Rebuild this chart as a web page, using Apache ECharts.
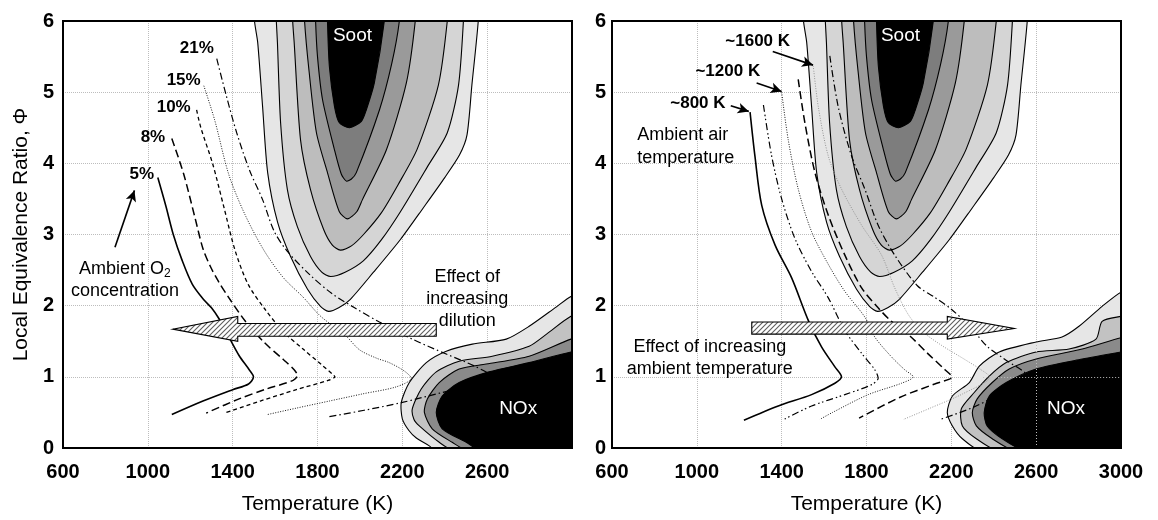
<!DOCTYPE html>
<html>
<head>
<meta charset="utf-8">
<script src="https://cdn.jsdelivr.net/npm/echarts@6/dist/echarts.min.js"></script>
<style>
  html, body { margin: 0; padding: 0; background: #fff; }
  #chart { width: 1158px; height: 520px; }
</style>
</head>
<body>
<div id="chart"></div>
<script>
// ---------- values: temperature (K) vs local equivalence ratio ----------
const tempRange = [600, 3000];
const tempStep = 400;
const phiRange = [0, 6];
const phiStep = 1;

// soot yield contours (outermost band first, black core last)
const soot1 = [[1500,6.4],[1503,6],[1518,5.7],[1541,4.8],[1565,3.87],[1612,3.17],[1673,2.69],[1753,2.23],[1814,1.99],[1852,1.92],[1900,1.97],[1955,2.09],[2064,2.47],[2191,2.93],[2300,3.38],[2400,3.8],[2470,4.12],[2505,4.4],[2528,5.1],[2558,6],[2560,6.4]];
const soot2 = [[1603,6.4],[1606,6],[1611,5.7],[1626,4.57],[1658,3.63],[1705,3.11],[1767,2.69],[1820,2.47],[1862,2.41],[1930,2.47],[2016,2.63],[2100,2.92],[2191,3.32],[2318,3.95],[2412,4.43],[2465,5.1],[2488,6],[2490,6.4]];
const soot3 = [[1681,6.4],[1683,6],[1690,5.7],[1720,4.33],[1767,3.63],[1829,3.07],[1870,2.85],[1908,2.78],[1960,2.84],[2017,3.0],[2100,3.3],[2180,3.7],[2270,4.2],[2370,5.1],[2412,6],[2416,6.4]];
const soot4 = [[1737,6.4],[1739,6],[1760,5.3],[1795,4.43],[1847,3.87],[1903,3.32],[1941,3.22],[1985,3.32],[2012,3.49],[2125,4.19],[2219,5.13],[2261,6],[2265,6.4]];
const soot5 = [[1789,6.4],[1791,6],[1800,5.5],[1824,4.89],[1880,4.19],[1912,3.85],[1936,3.75],[1960,3.78],[1983,3.87],[2092,4.75],[2150,5.4],[2186,6],[2190,6.4]];
const sootCore = [[1845,6.4],[1847,6],[1856,5.36],[1880,4.8],[1903,4.57],[1951,4.5],[2007,4.59],[2030,4.75],[2068,5.13],[2115,6],[2118,6.4]];

// NOx contours, dilution panel
const noxA1 = [[3100,2.25],[2995,2.13],[2925,1.98],[2798,1.71],[2690,1.53],[2530,1.46],[2407,1.36],[2313,1.2],[2233,0.92],[2195,0.64],[2200,0.41],[2230,0.25],[2266,0.14],[2327,0.03],[2360,-0.05],[3100,-0.3]];
const noxA2 = [[3100,1.95],[2995,1.85],[2880,1.6],[2798,1.43],[2624,1.29],[2468,1.22],[2360,1.07],[2289,0.83],[2247,0.55],[2255,0.4],[2280,0.31],[2374,0.08],[2450,-0.05],[3100,-0.3]];
const noxA3 = [[3100,1.6],[2995,1.53],[2798,1.29],[2595,1.18],[2468,1.11],[2374,0.92],[2318,0.69],[2304,0.5],[2341,0.27],[2435,0.08],[2515,-0.05],[3100,-0.3]];
const noxA4 = [[3100,1.4],[2995,1.35],[2798,1.2],[2609,1.07],[2468,0.92],[2388,0.73],[2360,0.5],[2388,0.27],[2501,0.08],[2576,-0.05],[3100,-0.3]];

// NOx contours, ambient temperature panel
const noxB1 = [[3100,2.3],[3000,2.19],[2911,1.99],[2802,1.71],[2722,1.56],[2600,1.49],[2426,1.35],[2332,1.15],[2285,0.92],[2205,0.73],[2181,0.5],[2205,0.31],[2252,0.13],[2346,-0.05],[3100,-0.3]];
const noxB2 = [[3100,1.9],[3000,1.85],[2911,1.78],[2882,1.53],[2755,1.39],[2600,1.35],[2459,1.2],[2379,1.01],[2308,0.78],[2247,0.55],[2252,0.31],[2318,0.13],[2426,-0.05],[3100,-0.3]];
const noxB3 = [[3100,1.6],[3000,1.55],[2817,1.39],[2600,1.25],[2473,1.11],[2393,0.92],[2322,0.69],[2299,0.5],[2318,0.31],[2393,0.13],[2506,-0.05],[3100,-0.3]];
const noxB4 = [[3100,1.4],[3000,1.35],[2817,1.25],[2600,1.11],[2459,0.92],[2379,0.73],[2355,0.5],[2369,0.31],[2440,0.13],[2553,-0.05],[3100,-0.3]];

// flame paths for ambient O2 concentration
const o2Labels = ['5%', '8%', '10%', '15%', '21%'];
const o2Path5  = [[1047,3.8],[1085,3.4],[1120,3.0],[1160,2.65],[1210,2.3],[1265,2.08],[1300,1.97],[1335,1.82],[1375,1.6],[1430,1.3],[1478,1.1],[1498,1.0],[1475,0.9],[1400,0.82],[1260,0.66],[1113,0.47]];
const o2Path8  = [[1113,4.35],[1169,3.85],[1222,3.24],[1260,2.8],[1295,2.55],[1335,2.33],[1380,2.12],[1460,1.78],[1550,1.48],[1640,1.24],[1690,1.1],[1705,1.02],[1685,0.95],[1560,0.83],[1430,0.69],[1275,0.49]];
const o2Path10 = [[1230,4.75],[1250,4.5],[1306,3.99],[1359,3.38],[1412,2.77],[1473,2.3],[1550,1.96],[1640,1.63],[1732,1.39],[1823,1.16],[1870,1.04],[1882,1.0],[1850,0.95],[1700,0.82],[1530,0.66],[1370,0.5]];
const o2Path15 = [[1264,5.09],[1315,4.61],[1382,3.84],[1458,3.28],[1549,2.77],[1640,2.39],[1732,2.12],[1808,1.87],[1870,1.72],[1936,1.57],[1998,1.38],[2080,1.26],[2138,1.2],[2210,1.08],[2242,0.98],[2172,0.86],[2012,0.76],[1856,0.66],[1700,0.56],[1564,0.47]];
const o2Path21 = [[1325,5.47],[1370,4.95],[1419,4.43],[1480,3.9],[1541,3.49],[1595,3.05],[1656,2.77],[1762,2.44],[1868,2.17],[1975,1.97],[2092,1.77],[2247,1.53],[2407,1.32],[2548,1.14],[2620,1.0],[2540,0.88],[2388,0.78],[2200,0.64],[2020,0.53],[1856,0.44]];

// flame paths for ambient air temperature
const ambLabels = ['~800 K', '~1200 K', '~1600 K'];
const ambPath800  = [[1251,4.72],[1274,4.1],[1306,3.41],[1369,2.85],[1447,2.39],[1526,1.79],[1588,1.42],[1651,1.14],[1682,1.0],[1651,0.91],[1541,0.75],[1384,0.59],[1222,0.39]];
const ambPath1000 = [[1314,4.82],[1353,4.1],[1400,3.5],[1463,2.94],[1541,2.48],[1620,2.11],[1698,1.65],[1777,1.33],[1839,1.1],[1855,0.98],[1824,0.89],[1698,0.75],[1541,0.59],[1410,0.4]];
const ambPath1200 = [[1400,5.0],[1431,4.33],[1478,3.64],[1541,3.04],[1620,2.58],[1698,2.2],[1792,1.84],[1839,1.56],[1918,1.28],[1980,1.1],[2020,1.0],[1965,0.91],[1808,0.75],[1640,0.5],[1579,0.4]];
const ambPath1400 = [[1478,5.18],[1510,4.56],[1557,3.87],[1620,3.27],[1698,2.71],[1777,2.25],[1855,1.97],[1910,1.8],[2006,1.57],[2088,1.33],[2170,1.1],[2203,1.0],[2121,0.9],[1956,0.71],[1765,0.42]];
const ambPath1600 = [[1549,5.37],[1573,4.79],[1620,4.1],[1682,3.64],[1777,3.13],[1871,2.71],[1933,2.25],[1996,1.88],[2059,1.65],[2150,1.45],[2260,1.25],[2340,1.1],[2380,1.0],[2253,0.76],[2100,0.56],[1973,0.4]];
const ambPath1800 = [[1627,5.51],[1667,4.79],[1730,4.1],[1792,3.64],[1855,3.13],[1933,2.71],[2040,2.28],[2120,2.12],[2200,1.95],[2290,1.7],[2368,1.43],[2450,1.25],[2560,1.0],[2420,0.75],[2302,0.57],[2146,0.4]];

// trend arrows (outline of the hatched block arrows)
const dilutionArrow = [[2360,1.75],[1424,1.75],[1424,1.85],[1118,1.67],[1424,1.50],[1424,1.57],[2360,1.57]];
const heatingArrow  = [[1259,1.77],[2181,1.77],[2181,1.85],[2497,1.68],[2181,1.53],[2181,1.60],[1259,1.60]];

// ---------- drawing ----------
const FONT = '"Liberation Sans", Arial, Helvetica, sans-serif';
const sootFills = ['#e6e6e6', '#d5d5d5', '#bdbdbd', '#9a9a9a', '#7d7d7d', '#000'];
const noxFills = ['#e6e6e6', '#c2c2c2', '#8a8a8a', '#000'];

// diagonal hatch used inside the trend arrows
const hatch = document.createElement('canvas');
hatch.width = 5; hatch.height = 5;
(function () {
  const c = hatch.getContext('2d');
  c.fillStyle = '#fff'; c.fillRect(0, 0, 5, 5);
  c.strokeStyle = '#5e5e5e'; c.lineWidth = 1.1;
  c.beginPath();
  c.moveTo(-1, 6); c.lineTo(6, -1);
  c.moveTo(-1, 1); c.lineTo(1, -1);
  c.moveTo(4, 6); c.lineTo(6, 4);
  c.stroke();
})();

function area(gi, pts, fill, z, smooth) {
  const mid = pts[Math.floor(pts.length / 2)];
  return {
    type: 'custom', xAxisIndex: gi, yAxisIndex: gi, clip: true, silent: true, z: z,
    data: [mid],
    renderItem: function (params, api) {
      return {
        type: 'polygon',
        shape: { points: pts.map(function (p) { return api.coord(p); }), smooth: smooth },
        style: { fill: fill, stroke: '#000', lineWidth: 1.1 }
      };
    }
  };
}

function path(gi, pts, color, width, dash, extra) {
  return Object.assign({
    type: 'line', xAxisIndex: gi, yAxisIndex: gi, data: pts,
    showSymbol: false, symbol: 'none', smooth: 0.3, silent: true, z: 3,
    lineStyle: { color: color, width: width, type: dash, cap: 'butt' }
  }, extra || {});
}

function notes(gi, items) {
  return {
    type: 'custom', xAxisIndex: gi, yAxisIndex: gi, silent: true, z: 6,
    data: items.map(function (n) { return n.at; }),
    renderItem: function (params, api) {
      const n = items[params.dataIndex];
      const p = api.coord([api.value(0), api.value(1)]);
      return {
        type: 'text', x: p[0], y: p[1],
        style: {
          text: n.text, fill: n.color || '#000', fontFamily: FONT,
          fontSize: n.size || 18, fontWeight: n.bold ? 'bold' : 'normal',
          align: 'center', verticalAlign: 'middle', rich: n.rich
        }
      };
    }
  };
}

function arrowLines(list) {
  return {
    silent: true, symbol: ['none', 'arrow'], symbolSize: [8, 11],
    lineStyle: { color: '#000', width: 1.6, type: 'solid' },
    label: { show: false }, animation: false,
    data: list.map(function (seg) { return [{ coord: seg[0] }, { coord: seg[1] }]; })
  };
}

const sootSet = [soot1, soot2, soot3, soot4, soot5, sootCore];
const series = [];
[0, 1].forEach(function (gi) {
  sootSet.forEach(function (s, i) { series.push(area(gi, s, sootFills[i], 2, 0.25)); });
});
[noxA1, noxA2, noxA3, noxA4].forEach(function (s, i) { series.push(area(0, s, noxFills[i], 2, 0.25)); });
[noxB1, noxB2, noxB3, noxB4].forEach(function (s, i) { series.push(area(1, s, noxFills[i], 2, 0.25)); });

// left panel: ambient O2 lines
series.push(path(0, o2Path5, '#000', 1.6, 'solid', {
  markLine: arrowLines([[[845, 2.82], [937, 3.62]]])
}));
series.push(path(0, o2Path8, '#000', 1.5, [8, 4]));
series.push(path(0, o2Path10, '#000', 1.3, [4, 3]));
series.push(path(0, o2Path15, '#000', 0.9, [1, 1.5]));
series.push(path(0, o2Path21, '#000', 1.2, [7, 3, 1.5, 3]));

// right panel: ambient temperature lines
series.push(path(1, ambPath800, '#000', 1.6, 'solid', {
  markLine: arrowLines([
    [[1160, 4.81], [1245, 4.73]],
    [[1282, 5.13], [1400, 5.01]],
    [[1358, 5.57], [1548, 5.38]]
  ])
}));
series.push(path(1, ambPath1000, '#000', 1.2, [7, 3, 1.5, 2.5, 1.5, 3]));
series.push(path(1, ambPath1200, '#000', 0.9, [1, 1.5]));
series.push(path(1, ambPath1400, '#000', 1.5, [8, 4]));
series.push(path(1, ambPath1600, '#8a8a8a', 0.9, [1, 1.5]));
series.push(path(1, ambPath1800, '#000', 1.2, [7, 3, 1.5, 3]));

// gridlines that stay visible over the dark NOx region
series.push(path(1, [], '#000', 1, 'solid', {
  z: 2.5,
  markLine: {
    silent: true, symbol: ['none', 'none'], label: { show: false }, animation: false,
    lineStyle: { color: '#bdbdbd', width: 1, type: [1, 2] },
    data: [
      [{ coord: [2600, 0] }, { coord: [2600, 1.45] }],
      [{ coord: [2350, 1] }, { coord: [3000, 1] }]
    ]
  }
}));

// hatched trend arrows
[[0, dilutionArrow], [1, heatingArrow]].forEach(function (a) {
  series.push(area(a[0], a[1], { image: hatch, repeat: 'repeat' }, 4, 0));
});

const subRich = { sub: { fontSize: 12, fontFamily: FONT, verticalAlign: 'bottom', padding: [9, 0, 0, 0] } };
series.push(notes(0, [
  { text: o2Labels[4], at: [1231, 5.61], bold: true, size: 17 },
  { text: o2Labels[3], at: [1169, 5.17], bold: true, size: 17 },
  { text: o2Labels[2], at: [1122, 4.79], bold: true, size: 17 },
  { text: o2Labels[1], at: [1024, 4.37], bold: true, size: 17 },
  { text: o2Labels[0], at: [972, 3.84], bold: true, size: 17 },
  { text: 'Ambient O{sub|2}', at: [892, 2.51], rich: subRich },
  { text: 'concentration', at: [892, 2.20] },
  { text: 'Effect of', at: [2506, 2.40] },
  { text: 'increasing', at: [2506, 2.09] },
  { text: 'dilution', at: [2506, 1.78] },
  { text: 'Soot', at: [1965, 5.79], color: '#fff', size: 19 },
  { text: 'NOx', at: [2746, 0.55], color: '#fff', size: 19 }
]));
series.push(notes(1, [
  { text: ambLabels[2], at: [1287, 5.71], bold: true, size: 17 },
  { text: ambLabels[1], at: [1146, 5.29], bold: true, size: 17 },
  { text: ambLabels[0], at: [1005, 4.85], bold: true, size: 17 },
  { text: 'Ambient air', at: [934, 4.40] },
  { text: 'temperature', at: [948, 4.08] },
  { text: 'Effect of increasing', at: [1061, 1.42] },
  { text: 'ambient temperature', at: [1061, 1.11] },
  { text: 'Soot', at: [1960, 5.79], color: '#fff', size: 19 },
  { text: 'NOx', at: [2741, 0.55], color: '#fff', size: 19 }
]));

function plain(v) { return String(v); }

function xAxis(gi, hideMax) {
  return {
    type: 'value', gridIndex: gi, min: tempRange[0], max: tempRange[1], interval: tempStep,
    name: 'Temperature (K)', nameLocation: 'middle', nameGap: 46,
    nameTextStyle: { fontFamily: FONT, fontSize: 21, color: '#000' },
    axisLine: { show: false }, axisTick: { show: false },
    axisLabel: { fontFamily: FONT, fontSize: 20, fontWeight: 'bold', color: '#000', margin: 14, showMaxLabel: !hideMax, formatter: plain },
    splitLine: { show: true, lineStyle: { color: '#bdbdbd', width: 1, type: 'dotted' } }
  };
}
function yAxis(gi, withName, margin) {
  return {
    type: 'value', gridIndex: gi, min: phiRange[0], max: phiRange[1], interval: phiStep,
    name: withName ? 'Local Equivalence Ratio, \u03A6' : '', nameLocation: 'middle', nameGap: 31,
    nameTextStyle: { fontFamily: FONT, fontSize: 21, color: '#000' },
    axisLine: { show: false }, axisTick: { show: false },
    axisLabel: { fontFamily: FONT, fontSize: 20, fontWeight: 'bold', color: '#000', margin: margin, formatter: plain },
    splitLine: { show: true, lineStyle: { color: '#bdbdbd', width: 1, type: 'dotted' } }
  };
}

const chart = echarts.init(document.getElementById('chart'), null, { renderer: 'canvas' });
chart.setOption({
  animation: false,
  backgroundColor: '#fff',
  grid: [
    { left: 63, right: 586, top: 21, bottom: 71, show: true, z: 20, borderColor: '#000', borderWidth: 2, backgroundColor: 'transparent' },
    { left: 612, right: 37, top: 21, bottom: 71, show: true, z: 20, borderColor: '#000', borderWidth: 2, backgroundColor: 'transparent' }
  ],
  xAxis: [xAxis(0, true), xAxis(1, false)],
  yAxis: [yAxis(0, true, 9), yAxis(1, false, 6)],
  series: series
});
</script>
</body>
</html>
